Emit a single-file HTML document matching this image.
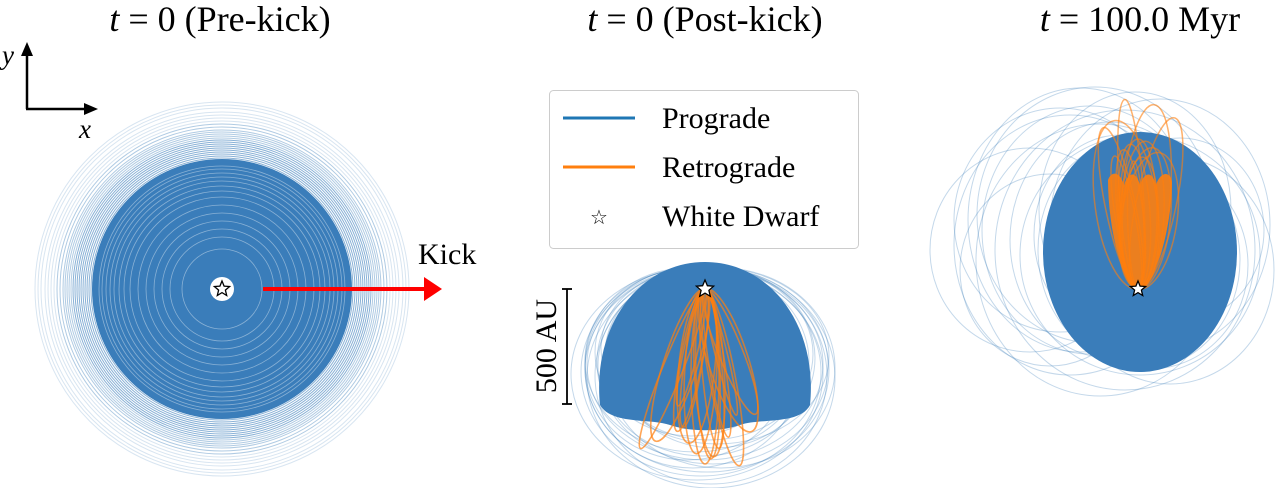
<!DOCTYPE html>
<html><head><meta charset="utf-8"><style>
body{margin:0;background:#fff}
svg{display:block;font-family:"Liberation Serif",serif}
</style></head><body>
<svg id="fig" width="1280" height="488" viewBox="0 0 1280 488">
<g id="p1"></g>
<g id="p2"></g>
<g id="p3"></g>
<g id="ann">
<text x="220" y="31" font-size="36" text-anchor="middle"><tspan font-style="italic">t</tspan> = 0 (Pre-kick)</text>
<text x="705" y="31" font-size="36" text-anchor="middle"><tspan font-style="italic">t</tspan> = 0 (Post-kick)</text>
<text x="1140" y="31" font-size="36" text-anchor="middle"><tspan font-style="italic">t</tspan> = 100.0 Myr</text>
<g>
<line x1="27" y1="109" x2="27" y2="54" stroke="#000" stroke-width="2.5"/>
<polygon points="21,56 33,56 27,42" fill="#000"/>
<line x1="26" y1="109" x2="86" y2="109" stroke="#000" stroke-width="2.5"/>
<polygon points="84,103 84,115 98,109" fill="#000"/>
<text x="2" y="64" font-size="27" font-style="italic">y</text>
<text x="79" y="138" font-size="27" font-style="italic">x</text>
</g>
<g>
<line x1="263" y1="289" x2="426" y2="289" stroke="#f00" stroke-width="4"/>
<polygon points="424,277 424,301 442,289" fill="#f00"/>
<text x="418" y="264" font-size="30">Kick</text>
</g>
<g>
<line x1="567" y1="289" x2="567" y2="404" stroke="#000" stroke-width="1.8"/>
<line x1="562" y1="289" x2="572" y2="289" stroke="#000" stroke-width="1.8"/>
<line x1="562" y1="404" x2="572" y2="404" stroke="#000" stroke-width="1.8"/>
<text transform="translate(556,346) rotate(-90)" font-size="30" text-anchor="middle">500 AU</text>
</g>
<g>
<rect x="549.5" y="90.5" width="309" height="158" rx="4" fill="#fff" fill-opacity="0.85" stroke="#ccc"/>
<line x1="563" y1="118" x2="635" y2="118" stroke="#1f77b4" stroke-width="3"/>
<text x="662" y="128" font-size="30">Prograde</text>
<line x1="563" y1="167" x2="635" y2="167" stroke="#ff7f0e" stroke-width="3"/>
<text x="662" y="177" font-size="30">Retrograde</text>
<text x="599" y="224" font-size="20" text-anchor="middle">☆</text>
<text x="662" y="226" font-size="30">White Dwarf</text>
</g>
</g>
</svg>
<script>
// Panel 1: ring radii (px) of circular orbits
const ringRadii=[131,133,135,137,139,141,143,145,147,149,151,153,155,157,159,162,165,168,171,174,177,181,184,187];
const whiteGaps=[40,52,60,68,76,84,92,98,103,108,112,116,120,123];
// Panel 2: post-kick prograde loops [rx, ry, dx]
const p2rx=[98,104,110,115,120,124,108,100,118,126,112,106,122,96,116,102,114];
const p2ry=[80,86,92,98,104,110,100,90,96,106,88,94,102,84,108,96,100];
const p2dx=[-6,4,-10,8,-4,6,-12,10,0,-8,12,-2,2,-14,6,-18,16];
// Panel 2 retrograde: [width, length, tilt deg]
const p2w=[6,10,14,18,22,26,30,12,8,20,16,24,34,28,18,14];
const p2len=[130,150,160,170,175,165,155,140,120,180,145,168,150,160,135,172];
const p2tilt=[-14,-9,-5,-2,0,3,6,9,13,-11,11,-3,-18,18,-22,22];
// Panel 3 prograde loops
const p3rx=[92,100,108,116,124,98,110,120,86,104,112,130,95,118,90,100,106,84,96];
const p3ry=[110,118,124,130,136,104,126,120,100,114,132,140,108,128,96,102,112,92,118];
const p3dx=[-10,-30,-50,-70,-40,10,20,0,-20,30,-60,-15,5,-45,-90,-110,-80,40,-5];
const p3dy=[0,-10,-20,-5,10,15,-25,5,-15,20,-30,0,10,-35,20,0,-30,-20,-40];
// Panel 3 retrograde
const p3w=[20,26,32,38,44,50,56,30,40,24,48,62,16,36];
const p3len=[135,140,145,150,148,142,138,165,175,190,185,170,128,132];
const p3tilt=[-10,-6,-3,0,3,6,9,-12,12,-4,5,-8,-2,2];
const NS='http://www.w3.org/2000/svg';
function mk(p,tag,at){const e=document.createElementNS(NS,tag);for(const k in at)e.setAttribute(k,at[k]);p.appendChild(e);return e;}
const BLUE='#3a7dba';
function star(p,x,y,r){let pts=[];for(let i=0;i<10;i++){const a=-Math.PI/2+i*Math.PI/5,rr=i%2?r*0.45:r;pts.push((x+rr*Math.cos(a)).toFixed(1)+','+(y+rr*Math.sin(a)).toFixed(1));}
const s=mk(p,'polygon',{points:pts.join(' '),fill:'#fff',stroke:'#000','stroke-width':1.3});

}
// Panel 1
const p1=document.getElementById('p1');const cx1=222,cy1=289;
ringRadii.forEach((r,i)=>{const c=mk(p1,'circle',{cx:cx1,cy:cy1,r:r,fill:'none',stroke:BLUE,'stroke-width':1,'stroke-opacity':(r<150?0.6:(r<166?0.4:0.2))});

});
const disk=mk(p1,'circle',{cx:cx1,cy:cy1,r:130,fill:BLUE});


whiteGaps.forEach(r=>{const c=mk(p1,'circle',{cx:cx1,cy:cy1,r:r,fill:'none',stroke:'#fff','stroke-width':0.8,'stroke-opacity':0.4});

});
mk(p1,'circle',{cx:cx1,cy:cy1,r:12,fill:'#fff'});
star(p1,cx1,cy1,8);
// Panel 2
const p2=document.getElementById('p2');const sx2=705,sy2=289;
p2rx.forEach((rx,i)=>{const ry=p2ry[i];const e=mk(p2,'ellipse',{cx:sx2+p2dx[i],cy:268+ry,rx:rx,ry:ry,fill:'none',stroke:BLUE,'stroke-width':1,'stroke-opacity':0.3});

});
const dome=mk(p2,'path',{d:'M600,405 C592,325 640,262 705,262 C770,262 818,325 810,405 C800,425 760,418 740,425 C720,432 690,432 670,425 C650,418 612,425 600,405 Z',fill:BLUE});


p2w.forEach((w,i)=>{const L=p2len[i];const e=mk(p2,'ellipse',{cx:sx2,cy:sy2+L/2,rx:w/2+3,ry:L/2,fill:'none',stroke:'#ff7f0e','stroke-width':1.6,'stroke-opacity':0.7,transform:`rotate(${p2tilt[i]} ${sx2} ${sy2})`});

});
star(p2,sx2,sy2,9);
// Panel 3
const p3=document.getElementById('p3');const sx3=1138,sy3=289;
p3rx.forEach((rx,i)=>{const e=mk(p3,'ellipse',{cx:1140+p3dx[i],cy:250+p3dy[i],rx:rx,ry:p3ry[i],fill:'none',stroke:BLUE,'stroke-width':1,'stroke-opacity':0.3});

});
const core=mk(p3,'ellipse',{cx:1140,cy:252,rx:97,ry:120,fill:BLUE});


const tulip=mk(p3,'path',{d:'M1138,293 C1118,275 1108,220 1108,180 C1112,170 1120,172 1124,185 C1128,172 1136,170 1140,185 C1144,172 1152,170 1156,185 C1160,172 1170,170 1172,182 C1172,220 1160,275 1138,293 Z',fill:'#ff7f0e','fill-opacity':0.9});


p3w.forEach((w,i)=>{const L=p3len[i];const e=mk(p3,'ellipse',{cx:sx3,cy:sy3-L/2,rx:w/2,ry:L/2,fill:'none',stroke:'#ff7f0e','stroke-width':1.5,'stroke-opacity':0.6,transform:`rotate(${p3tilt[i]} ${sx3} ${sy3})`});

});
star(p3,sx3,sy3,8);
</script>
</body></html>
